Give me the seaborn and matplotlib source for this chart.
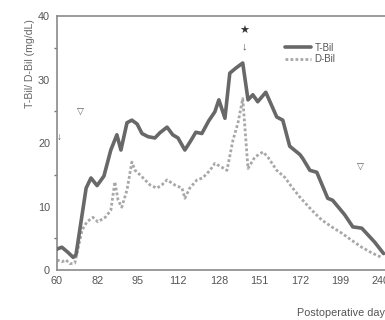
import matplotlib
matplotlib.use("Agg")
import matplotlib.pyplot as plt
import seaborn as sns
import pandas as pd

# ---- data (x in tick-slot units: 0 -> first tick label, 1 -> next, ...) ----
tick_labels = ["60", "82", "95", "112", "128", "151", "172", "199", "240"]

tbil_pos = [0.00, 0.12, 0.27, 0.40, 0.47, 0.72, 0.84, 0.99, 1.16, 1.33, 1.48, 1.58,
            1.73, 1.85, 1.98, 2.10, 2.25, 2.42, 2.54, 2.72, 2.86, 2.99, 3.16, 3.31,
            3.43, 3.58, 3.75, 3.90, 4.00, 4.15, 4.27, 4.42, 4.59, 4.72, 4.84, 4.96,
            5.16, 5.43, 5.58, 5.75, 6.00, 6.07, 6.25, 6.42, 6.69, 6.81, 7.11, 7.31,
            7.53, 7.85, 8.07]
tbil = [3.3, 3.6, 2.8, 2.0, 2.4, 12.9, 14.5, 13.3, 14.8, 18.9, 21.3, 18.9,
        23.2, 23.6, 23.0, 21.5, 21.0, 20.8, 21.6, 22.5, 21.3, 20.8, 18.9, 20.4,
        21.7, 21.5, 23.5, 24.9, 26.8, 23.9, 31.0, 31.8, 32.6, 26.8, 27.6, 26.5,
        28.0, 24.1, 23.6, 19.5, 18.2, 17.6, 15.7, 15.4, 11.3, 11.0, 8.7, 6.8,
        6.6, 4.4, 2.6]

dbil_pos = [0.00, 0.12, 0.22, 0.32, 0.44, 0.62, 0.74, 0.89, 1.01, 1.19, 1.33, 1.43,
            1.51, 1.60, 1.73, 1.85, 1.93, 2.05, 2.30, 2.47, 2.59, 2.72, 2.91, 3.09,
            3.16, 3.28, 3.46, 3.60, 3.78, 3.90, 4.07, 4.20, 4.35, 4.47, 4.59, 4.72,
            4.89, 5.09, 5.21, 5.43, 5.63, 5.80, 6.00, 6.30, 6.54, 6.79, 7.04, 7.28,
            7.53, 7.78, 8.02]
dbil = [1.6, 1.3, 1.6, 1.0, 1.1, 6.3, 7.6, 8.3, 7.6, 8.3, 9.4, 13.9,
        11.0, 9.9, 12.6, 17.0, 15.7, 15.0, 13.4, 12.9, 13.4, 14.2, 13.4, 12.9,
        11.3, 12.9, 14.2, 14.5, 15.7, 16.8, 16.2, 15.7, 20.5, 23.1, 27.0, 16.0,
        17.8, 18.6, 17.8, 15.7, 14.6, 13.1, 11.5, 9.4, 7.9, 6.8, 5.8, 4.7,
        3.6, 2.7, 2.0]

df_t = pd.DataFrame({"pos": tbil_pos, "val": tbil})
df_d = pd.DataFrame({"pos": dbil_pos, "val": dbil})

sns.set_style("white")
plt.rcParams["font.family"] = ["Liberation Sans", "DejaVu Sans"]

fig = plt.figure(figsize=(3.85, 3.2), dpi=100)
ax = fig.add_axes([0.148, 0.156, 0.883, 0.794])

sns.lineplot(data=df_d, x="pos", y="val", ax=ax, sort=False, color="#a8a8a8",
             linewidth=2.0, linestyle=(0, (1, 0.8)), label="D-Bil", zorder=2)
sns.lineplot(data=df_t, x="pos", y="val", ax=ax, sort=False, color="#686868",
             linewidth=2.6, label="T-Bil", zorder=3)

ax.set_xlim(0, 8.4)
ax.set_ylim(0, 40)
ax.set_xticks(range(len(tick_labels)))
ax.set_xticklabels(tick_labels)
ax.set_yticks([0, 10, 20, 30, 40])
ax.set_yticks([5, 15, 25, 35], minor=True)
ax.tick_params(axis="both", which="major", labelsize=7.8, colors="#555555",
               length=3, width=1.2, direction="out", pad=2)
ax.tick_params(axis="y", which="minor", length=2, width=1, colors="#777777",
               direction="out", left=True)
ax.tick_params(axis="x", length=0, pad=4)
for s in ["left", "bottom", "top"]:
    ax.spines[s].set_color("#8a8a8a")
    ax.spines[s].set_linewidth(1.2)
ax.spines["right"].set_visible(False)

ax.set_xlabel("")
ax.set_ylabel("")
fig.text(0.078, 0.80, "T-Bil/ D-Bil (mg/dL)", rotation=90, ha="center", va="center",
         fontsize=7.6, color="#666666")
fig.text(1.0, 0.005, "Postoperative day", ha="right", va="bottom",
         fontsize=7.8, color="#555555")

# annotations
ax.text(0.57, 24.9, "\u25bd", ha="center", va="center", fontsize=6.5, color="#555555")
ax.text(7.50, 16.2, "\u25bd", ha="center", va="center", fontsize=6.5, color="#555555")
ax.text(0.06, 21.0, "\u2193", ha="center", va="center", fontsize=7, color="#555555")
ax.text(4.62, 37.6, "\u2605", ha="center", va="center", fontsize=8, color="#333333")
ax.text(4.62, 35.2, "\u2193", ha="center", va="center", fontsize=8, color="#555555")

h, l = ax.get_legend_handles_labels()
order = [l.index("T-Bil"), l.index("D-Bil")]
leg = ax.legend([h[i] for i in order], [l[i] for i in order], loc="upper left",
                bbox_to_anchor=(0.66, 0.91), frameon=False, fontsize=7,
                handlelength=2.6, handletextpad=0.4, labelspacing=0.15,
                borderaxespad=0)
for t in leg.get_texts():
    t.set_color("#555555")

fig.savefig("out.png", dpi=100)
